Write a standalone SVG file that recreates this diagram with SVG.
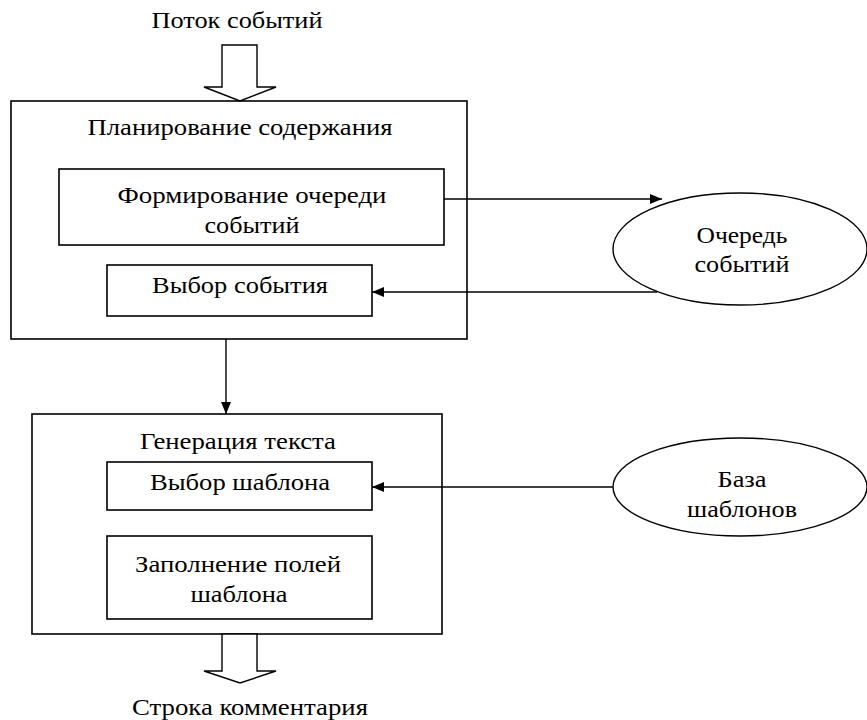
<svg xmlns="http://www.w3.org/2000/svg" width="867" height="720" viewBox="0 0 867 720">
<defs>
<style>
.box{fill:none;stroke:#000;stroke-width:1.6}
.ell{fill:#fff;stroke:#000;stroke-width:1.4}
.ln{fill:none;stroke:#000;stroke-width:1.4}
.blk{fill:#fff;stroke:#000;stroke-width:1.4;stroke-linejoin:miter}
text{font-family:"Liberation Serif","Times New Roman",serif;font-size:24px;fill:#000;text-anchor:middle}
</style>
<marker id="ah" viewBox="0 0 12 10" refX="12" refY="5" markerWidth="12" markerHeight="10" markerUnits="userSpaceOnUse" orient="auto">
<path d="M0,0 L12,5 L0,10 Z" fill="#000"/>
</marker>
</defs>
<rect width="867" height="720" fill="#fff"/>
<g id="input">
<text x="237" y="28" textLength="171" lengthAdjust="spacingAndGlyphs">Поток событий</text>
<polygon class="blk" points="222,45 257,45 257,87 276,87 240,101 204,87 222,87"/>
</g>
<g id="planning">
<rect class="box" x="11" y="101" width="456" height="238"/>
<text x="240" y="135" textLength="305" lengthAdjust="spacingAndGlyphs">Планирование содержания</text>
</g>
<g id="form-queue">
<rect class="box" x="59" y="169" width="385" height="76"/>
<text x="252" y="203" textLength="269" lengthAdjust="spacingAndGlyphs">Формирование очереди</text>
<text x="252" y="233" textLength="95" lengthAdjust="spacingAndGlyphs">событий</text>
</g>
<g id="select-event">
<rect class="box" x="107" y="265" width="265" height="51"/>
<text x="240" y="293" textLength="176" lengthAdjust="spacingAndGlyphs">Выбор события</text>
</g>
<g id="queue">
<ellipse class="ell" cx="740" cy="249" rx="127" ry="56"/>
<text x="742" y="243" textLength="91" lengthAdjust="spacingAndGlyphs">Очередь</text>
<text x="742" y="272" textLength="95" lengthAdjust="spacingAndGlyphs">событий</text>
</g>
<g id="generation">
<rect class="box" x="32" y="414" width="410" height="220"/>
<text x="238" y="449" textLength="196" lengthAdjust="spacingAndGlyphs">Генерация текста</text>
</g>
<g id="select-template">
<rect class="box" x="107" y="462" width="265" height="48"/>
<text x="240" y="490" textLength="180" lengthAdjust="spacingAndGlyphs">Выбор шаблона</text>
</g>
<g id="fill-fields">
<rect class="box" x="107" y="536" width="265" height="83"/>
<text x="238" y="572" textLength="206" lengthAdjust="spacingAndGlyphs">Заполнение полей</text>
<text x="239" y="602" textLength="97" lengthAdjust="spacingAndGlyphs">шаблона</text>
</g>
<g id="templates">
<ellipse class="ell" cx="740" cy="487" rx="127" ry="49"/>
<text x="742" y="487" textLength="49" lengthAdjust="spacingAndGlyphs">База</text>
<text x="742" y="517" textLength="110" lengthAdjust="spacingAndGlyphs">шаблонов</text>
</g>
<g id="output">
<polygon class="blk" points="222,634 257,634 257,671 276,671 240,683 204,671 222,671"/>
<text x="250" y="715" textLength="236" lengthAdjust="spacingAndGlyphs">Строка комментария</text>
</g>
<g id="connectors">
<line class="ln" x1="444" y1="199" x2="662" y2="199" marker-end="url(#ah)"/>
<line class="ln" x1="657" y1="292" x2="372" y2="292" marker-end="url(#ah)"/>
<line class="ln" x1="226" y1="339" x2="226" y2="414" marker-end="url(#ah)"/>
<line class="ln" x1="613" y1="487" x2="372" y2="487" marker-end="url(#ah)"/>
</g>
</svg>
